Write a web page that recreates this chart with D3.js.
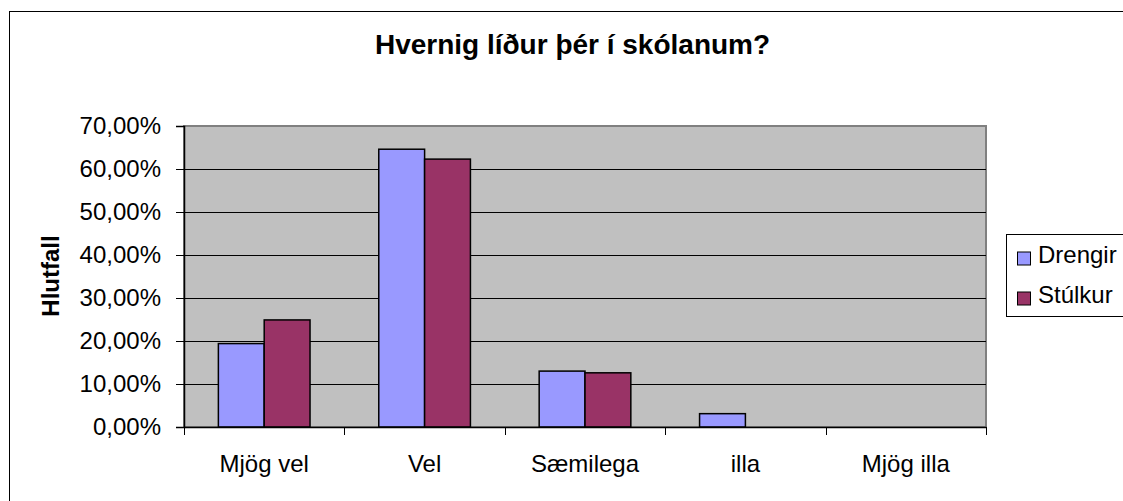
<!DOCTYPE html>
<html><head><meta charset="utf-8">
<script src="https://cdn.jsdelivr.net/npm/d3@7"></script>
<style>body{margin:0;background:#fff}svg{display:block}text{font-family:"Liberation Sans",Arial,sans-serif}</style>
</head><body><svg id="c" width="1123" height="501"></svg>
<script>
const categories = ["Mjög vel", "Vel", "Sæmilega", "illa", "Mjög illa"];
const seriesNames = ["Drengir", "Stúlkur"];
const drengir = [19.4, 64.6, 13.0, 3.1, 0];
const stulkur = [24.9, 62.3, 12.6, 0, 0];
const yTicks = [0, 10, 20, 30, 40, 50, 60, 70];
const colors = ["#9999FF", "#993366"];

const svg = d3.select("#c");
svg.append("rect").attr("x",9.5).attr("y",11.5).attr("width",1140).attr("height",520)
  .attr("fill","#fff").attr("stroke","#000").attr("stroke-width",1);

const L=184, R=986, T=126, B=427;
const x = d3.scaleBand().domain(categories).range([L,R]);
const xs = d3.scaleBand().domain(seriesNames).range([0, x.bandwidth()]).paddingInner(0).paddingOuter(0.75);
const y = d3.scaleLinear().domain([0,70]).range([B,T]);

svg.append("rect").attr("x",L).attr("y",T).attr("width",R-L).attr("height",B-T)
  .attr("fill","#C0C0C0").attr("stroke","#808080").attr("stroke-width",2);

svg.append("g").selectAll("line").data(yTicks.filter(d=>d>0 && d<70)).join("line")
  .attr("x1",L).attr("x2",R).attr("y1",d=>Math.round(y(d))+0.5).attr("y2",d=>Math.round(y(d))+0.5)
  .attr("stroke","#000").attr("stroke-width",1);

const data = [drengir, stulkur];
const g = svg.append("g");
seriesNames.forEach((s,i)=>{
  g.selectAll(null).data(categories).join("rect")
    .attr("x",(c)=>x(c)+xs(s)).attr("width",xs.bandwidth())
    .attr("y",(c,j)=>y(data[i][j])).attr("height",(c,j)=>B-y(data[i][j]))
    .attr("fill",colors[i]).attr("stroke","#000").attr("stroke-width",1.5)
    .attr("display",(c,j)=>data[i][j]>0?null:"none");
});

// y axis
const yAxis = d3.axisLeft(y).tickValues(yTicks).tickSize(8).tickPadding(15)
  .tickFormat(d=>d.toFixed(2).replace(".",",")+"%");
const ya = svg.append("g").attr("transform",`translate(${L},0)`).call(yAxis);
ya.attr("font-size",null).attr("font-family",null);
ya.selectAll("text").style("font-size","24px").attr("fill","#000");
ya.select(".domain").attr("stroke","#000").attr("stroke-width",1.5);
ya.selectAll(".tick line").attr("stroke","#000");

// x axis
const xa = svg.append("g").attr("transform",`translate(0,${B})`)
  .call(d3.axisBottom(x).tickSize(0).tickPadding(28));
xa.attr("font-size",null).attr("font-family",null);
xa.selectAll("text").style("font-size","24px").attr("fill","#000");
xa.select(".domain").attr("stroke","#000").attr("stroke-width",1.5);
const xt = svg.append("g");
xt.selectAll("line").data(categories.concat(["end"])).join("line")
  .attr("x1",(c,i)=>Math.round(i<categories.length?x(c):R)+0.5).attr("x2",(c,i)=>Math.round(i<categories.length?x(c):R)+0.5)
  .attr("y1",B).attr("y2",B+8).attr("stroke","#000");

svg.append("text").attr("x",572.5).attr("y",54).attr("text-anchor","middle")
  .style("font-size","28px").attr("font-weight","bold").text("Hvernig líður þér í skólanum?");
svg.append("text").attr("transform","translate(59,276) rotate(-90)").attr("text-anchor","middle")
  .style("font-size","24px").attr("font-weight","bold").text("Hlutfall");

// legend
const lg = svg.append("g");
lg.append("rect").attr("x",1006.5).attr("y",234.5).attr("width",140).attr("height",82)
  .attr("fill","#fff").attr("stroke","#000");
seriesNames.forEach((s,i)=>{
  const cy = 258.5 + i*40;
  lg.append("rect").attr("x",1017.5).attr("y",cy-6.5).attr("width",13).attr("height",13)
    .attr("fill",colors[i]).attr("stroke","#000").attr("stroke-width",1);
  lg.append("text").attr("x",1038).attr("y",cy+4.5).style("font-size","24px").text(s);
});
</script></body></html>
